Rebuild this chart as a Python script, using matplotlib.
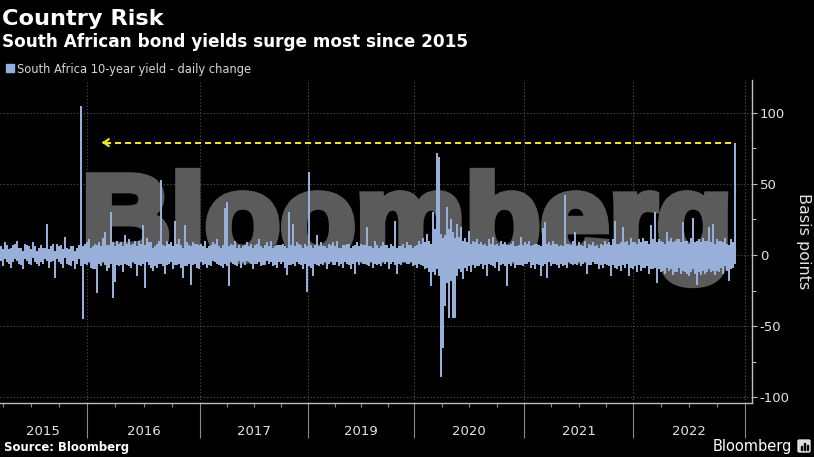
import numpy as np
import matplotlib
matplotlib.use("Agg")
import matplotlib.pyplot as plt
import matplotlib.transforms as mtransforms
from matplotlib.textpath import TextPath
from matplotlib.patches import PathPatch, Rectangle, FancyBboxPatch
from matplotlib.font_manager import FontProperties

# Дневные изменения доходности 10-летних облигаций ЮАР (б.п.).
# На каждые ~2 пикселя исходного графика: самый большой рост и самое большое падение.
daily_up = [
    6, 4, 9, 7, 4, 5, 7, 8, 10, 5, 5, 3, 8, 7, 6, 4, 9, 6, 3, 5,
    7, 5, 5, 22, 4, 6, 8, 3, 8, 6, 7, 4, 13, 5, 4, 6, 6, 3, 5, 7,
    105, 6, 8, 9, 11, 5, 6, 8, 7, 9, 6, 12, 16, 7, 7, 30, 9, 6, 10, 8,
    9, 6, 14, 8, 11, 7, 8, 10, 6, 10, 8, 21, 7, 12, 9, 9, 5, 6, 8, 10,
    53, 7, 6, 10, 8, 9, 6, 24, 8, 11, 7, 5, 21, 9, 7, 6, 9, 8, 8, 7,
    8, 6, 10, 5, 6, 7, 9, 8, 11, 6, 5, 7, 33, 37, 6, 8, 7, 10, 5, 7,
    5, 6, 7, 9, 6, 8, 5, 7, 8, 11, 6, 5, 7, 9, 6, 10, 5, 6, 7, 7,
    7, 8, 6, 5, 30, 7, 22, 6, 9, 8, 7, 5, 8, 6, 58, 7, 5, 7, 14, 6,
    9, 6, 6, 5, 8, 7, 9, 6, 10, 5, 5, 7, 7, 8, 8, 5, 6, 7, 9, 6,
    8, 7, 7, 20, 6, 6, 5, 10, 7, 5, 6, 9, 7, 7, 5, 8, 6, 24, 5, 6,
    6, 8, 5, 9, 7, 7, 5, 6, 7, 10, 8, 12, 9, 15, 10, 8, 30, 18, 72, 69,
    15, 12, 14, 34, 18, 25, 16, 12, 22, 13, 20, 10, 12, 9, 17, 8, 10, 9, 11, 8,
    9, 7, 8, 6, 11, 8, 13, 7, 8, 6, 10, 8, 9, 7, 7, 8, 10, 6, 6, 7,
    13, 7, 9, 8, 10, 6, 7, 8, 8, 7, 6, 19, 23, 8, 9, 7, 10, 8, 8, 6,
    7, 6, 42, 8, 8, 7, 10, 16, 6, 9, 7, 6, 10, 5, 8, 7, 9, 6, 7, 5,
    8, 7, 10, 8, 9, 7, 11, 24, 8, 8, 9, 20, 9, 10, 7, 12, 9, 9, 8, 11,
    9, 12, 10, 10, 8, 21, 11, 30, 9, 11, 10, 9, 8, 16, 10, 12, 9, 10, 11, 11,
    9, 23, 10, 10, 8, 12, 26, 9, 10, 11, 9, 12, 10, 10, 20, 9, 22, 8, 11, 10,
    10, 9, 12, 8, 7, 11, 9, 79,
]
daily_down = [
    -4, -8, -3, -5, -6, -9, -5, -3, -4, -6, -7, -10, -3, -4, -6, -7, -2, -5, -6, -8,
    -5, -6, -3, -4, -9, -5, -4, -16, -3, -5, -6, -9, -2, -6, -7, -8, -4, -10, -6, -3,
    -8, -45, -6, -7, -5, -9, -10, -10, -27, -6, -8, -5, -7, -11, -9, -6, -30, -19, -7, -8,
    -7, -12, -6, -7, -8, -9, -5, -6, -15, -7, -8, -6, -23, -5, -7, -9, -11, -8, -9, -6,
    -6, -8, -13, -7, -6, -5, -10, -7, -7, -6, -9, -16, -8, -8, -6, -21, -7, -6, -9, -10,
    -5, -7, -6, -9, -7, -8, -4, -5, -6, -7, -8, -9, -6, -8, -22, -5, -6, -7, -8, -4,
    -9, -5, -7, -4, -5, -6, -10, -6, -6, -5, -8, -7, -7, -4, -6, -5, -8, -7, -9, -5,
    -6, -5, -9, -14, -7, -7, -6, -8, -5, -6, -7, -10, -6, -26, -8, -9, -15, -6, -7, -8,
    -6, -7, -5, -10, -6, -5, -7, -7, -5, -8, -6, -9, -5, -6, -7, -10, -6, -13, -5, -7,
    -5, -6, -6, -7, -8, -5, -9, -6, -7, -6, -8, -5, -6, -5, -10, -6, -5, -7, -13, -6,
    -7, -5, -5, -6, -6, -5, -8, -7, -9, -6, -7, -8, -10, -9, -12, -22, -12, -14, -10, -15,
    -86, -65, -36, -20, -44, -18, -44, -44, -15, -10, -12, -17, -9, -11, -8, -12, -7, -9, -8, -8,
    -6, -10, -7, -15, -6, -7, -8, -9, -5, -11, -7, -6, -8, -22, -6, -8, -5, -9, -7, -7,
    -7, -8, -6, -6, -5, -9, -7, -10, -6, -7, -15, -8, -6, -16, -5, -8, -6, -6, -7, -9,
    -6, -8, -7, -9, -5, -6, -7, -6, -7, -5, -8, -6, -5, -13, -7, -7, -5, -6, -6, -10,
    -7, -9, -6, -7, -8, -15, -7, -9, -10, -8, -11, -7, -9, -6, -15, -9, -10, -8, -12, -7,
    -11, -9, -9, -8, -13, -10, -10, -9, -20, -10, -12, -11, -13, -9, -11, -10, -14, -12, -12, -9,
    -13, -11, -12, -13, -15, -12, -10, -13, -21, -12, -14, -11, -13, -12, -10, -12, -11, -14, -11, -12,
    -9, -13, -8, -11, -18, -10, -9, -6,
]
year_labels = ["2015", "2016", "2017", "2019", "2020", "2021", "2022"]
y_ticks = [-100, -50, 0, 50, 100]

BAR = "#98b0d9"
YELLOW = "#f2e22c"
W, H = 814, 457


def fx(p):
    return p / W


def fy(p):
    return 1 - p / H


fig = plt.figure(figsize=(W / 100, H / 100), dpi=100, facecolor="black")
ax = fig.add_axes([0, fy(403), fx(752), (403 - 80) / H])
ax.set_facecolor("black")

x = np.arange(len(daily_up))
ax.bar(x, daily_up, width=0.7, color=BAR, linewidth=0, zorder=2)
ax.bar(x, daily_down, width=0.7, color=BAR, linewidth=0, zorder=2)

# пунктир от последнего скачка к 2015 году
last = len(daily_up) - 1
peak = int(np.argmax(daily_up))
level = daily_up[-1]
ax.plot([peak + 12, last], [level, level], color=YELLOW,
        lw=1.5, dashes=(2.9, 1.9), zorder=3)
ax.annotate("", xy=(peak + 10.5, level), xytext=(peak + 13, level),
            arrowprops=dict(arrowstyle="->,head_length=0.35,head_width=0.25",
                            color=YELLOW, lw=1.6), zorder=3)

# оси
ax.set_xlim(-0.5, 375.5)
ax.set_ylim(-104, 123)
bounds = [43, 99.5, 153.5, 206.5, 261.5, 316, 372]
minor = [bounds[0] - 14 * k for k in (1, 2, 3)]
for a, b in zip(bounds[:-1], bounds[1:]):
    minor += [a + (b - a) * k / 4 for k in (1, 2, 3)]
ax.set_xticks(bounds)
ax.set_xticklabels([])
ax.set_xticks(minor, minor=True)
ax.tick_params(axis="x", which="major", length=25, width=0.8, color="#8a8a8a")
ax.tick_params(axis="x", which="minor", length=3, width=0.8, color="#8a8a8a")

centers = [21] + [(a + b) / 2 for a, b in zip(bounds[:-1], bounds[1:])]
blend = mtransforms.blended_transform_factory(ax.transData, fig.transFigure)
for lab, c in zip(year_labels, centers):
    ax.text(c, fy(435), lab, transform=blend, ha="center", va="baseline",
            color="#e4e4e4", fontsize=9.5)

ax.yaxis.tick_right()
ax.set_yticks(y_ticks)
ax.set_yticklabels([str(v) for v in y_ticks])
ax.set_yticks([-75, -25, 25, 75], minor=True)
ax.tick_params(axis="y", which="major", length=3.5, width=0.8, pad=2,
               color="#bdbdbd", labelcolor="#e4e4e4", labelsize=9.5)
ax.tick_params(axis="y", which="minor", length=3, width=0.8, color="#bdbdbd")

for s in ("left", "top"):
    ax.spines[s].set_visible(False)
for s in ("right", "bottom"):
    ax.spines[s].set_color("#bdbdbd")
    ax.spines[s].set_linewidth(1)

ax.set_axisbelow(True)
ax.grid(True, which="major", color="#555555", linestyle=(0, (1, 2)), linewidth=0.8)

# водяной знак (под столбиками)
tp = TextPath((0, 0), "Bloomberg", size=100,
              prop=FontProperties(family="Liberation Sans", weight="bold"))
ext = tp.get_extents()
box_x0, box_x1, box_top, box_bot = 90, 724, 172, 284
sx = (box_x1 - box_x0) / ext.width
sy = (box_bot - box_top) / ext.height
wm_tr = (mtransforms.Affine2D().translate(-ext.x0, -ext.y0).scale(sx, sy)
         .translate(box_x0, H - box_bot).scale(1 / W, 1 / H) + fig.transFigure)
ax.add_patch(PathPatch(tp, transform=wm_tr, facecolor="#5b5b5b",
                       edgecolor="#5b5b5b", lw=6, zorder=1, clip_on=False))

# тексты
fig.text(fx(2), fy(25), "Country Risk", color="white", fontsize=16.2,
         fontweight="bold", ha="left", va="baseline")
fig.text(fx(2), fy(47), "South African bond yields surge most since 2015",
         color="white", fontsize=12.2, fontweight="bold", ha="left", va="baseline")
fig.add_artist(Rectangle((fx(6), fy(72)), 8 / W, 8 / H, transform=fig.transFigure,
                         color=BAR))
fig.text(fx(17), fy(72.5), "South Africa 10-year yield - daily change",
         color="#d6d6d6", fontsize=8.3, ha="left", va="baseline")
fig.text(fx(803), fy(241), "Basis points", rotation=270, color="#e4e4e4",
         fontsize=11.5, ha="center", va="center")
fig.text(fx(4), fy(451), "Source: Bloomberg", color="white", fontsize=8.4,
         fontweight="bold", ha="left", va="baseline")
fig.text(fx(792), fy(451), "Bloomberg", color="white", fontsize=10.5,
         ha="right", va="baseline")

# маленький значок Bloomberg
fig.add_artist(FancyBboxPatch((fx(798), fy(452)), 12 / W, 12 / H,
                              boxstyle="round,pad=0,rounding_size=0.002",
                              transform=fig.transFigure, color="#dddddd"))
for i, h in enumerate([4, 7, 5]):
    fig.add_artist(Rectangle((fx(800.5 + i * 3), fy(449.5)), 1.6 / W, h / H,
                             transform=fig.transFigure, color="black"))

fig.savefig("out.png", dpi=100, facecolor="black")
